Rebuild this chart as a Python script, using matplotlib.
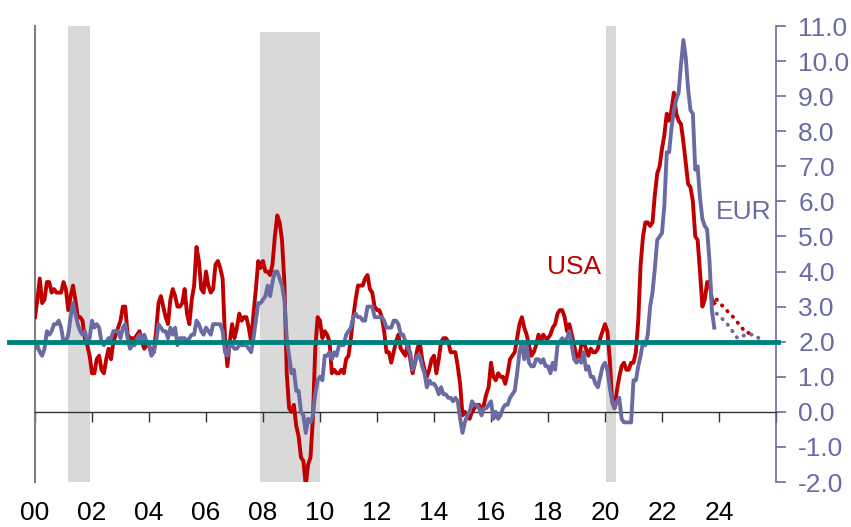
import matplotlib.pyplot as plt
import numpy as np

plt.rcParams['font.family'] = ['Liberation Sans', 'DejaVu Sans']

# US CPI, % y/y, monthly Jan 2000 - Nov 2023
usa = [
    2.7, 3.2, 3.8, 3.1, 3.2, 3.7, 3.7, 3.4, 3.5, 3.4, 3.4, 3.4,
    3.7, 3.5, 2.9, 3.3, 3.6, 3.2, 2.7, 2.7, 2.6, 2.1, 1.9, 1.6,
    1.1, 1.1, 1.5, 1.6, 1.2, 1.1, 1.5, 1.8, 1.5, 2.0, 2.2, 2.4,
    2.6, 3.0, 3.0, 2.2, 2.1, 2.1, 2.1, 2.2, 2.3, 2.0, 1.8, 1.9,
    1.9, 1.7, 1.7, 2.3, 3.1, 3.3, 3.0, 2.7, 2.5, 3.2, 3.5, 3.3,
    3.0, 3.0, 3.1, 3.5, 2.8, 2.5, 3.2, 3.6, 4.7, 4.3, 3.5, 3.4,
    4.0, 3.6, 3.4, 3.5, 4.2, 4.3, 4.1, 3.8, 2.1, 1.3, 2.0, 2.5,
    2.1, 2.4, 2.8, 2.6, 2.7, 2.7, 2.4, 2.0, 2.8, 3.5, 4.3, 4.1,
    4.3, 4.0, 4.0, 3.9, 4.2, 5.0, 5.6, 5.4, 4.9, 3.7, 1.1, 0.1,
    0.0, 0.2, -0.4, -0.7, -1.3, -1.4, -2.1, -1.5, -1.3, -0.2, 1.8, 2.7,
    2.6, 2.1, 2.3, 2.2, 2.0, 1.1, 1.2, 1.1, 1.1, 1.2, 1.1, 1.5,
    1.6, 2.1, 2.7, 3.2, 3.6, 3.6, 3.6, 3.8, 3.9, 3.5, 3.4, 3.0,
    2.9, 2.9, 2.7, 2.3, 1.7, 1.7, 1.4, 1.7, 2.0, 2.2, 1.8, 1.7,
    1.6, 2.0, 1.5, 1.1, 1.4, 1.8, 2.0, 1.5, 1.2, 1.0, 1.2, 1.5,
    1.6, 1.1, 1.5, 2.0, 2.1, 2.1, 2.0, 1.7, 1.7, 1.7, 1.3, 0.8,
    -0.1, 0.0, -0.1, -0.2, 0.0, 0.1, 0.2, 0.2, 0.0, 0.2, 0.5, 0.7,
    1.4, 1.0, 0.9, 1.1, 1.0, 1.0, 0.8, 1.1, 1.5, 1.6, 1.7, 2.1,
    2.5, 2.7, 2.4, 2.2, 1.9, 1.6, 1.7, 1.9, 2.2, 2.0, 2.2, 2.1,
    2.1, 2.2, 2.4, 2.5, 2.8, 2.9, 2.9, 2.7, 2.3, 2.5, 2.2, 1.9,
    1.6, 1.5, 1.9, 2.0, 1.8, 1.6, 1.8, 1.7, 1.7, 1.8, 2.1, 2.3,
    2.5, 2.3, 1.5, 0.3, 0.1, 0.6, 1.0, 1.3, 1.4, 1.2, 1.2, 1.4,
    1.4, 1.7, 2.6, 4.2, 5.0, 5.4, 5.4, 5.3, 5.4, 6.2, 6.8, 7.0,
    7.5, 7.9, 8.5, 8.3, 8.6, 9.1, 8.5, 8.3, 8.2, 7.7, 7.1, 6.5,
    6.4, 6.0, 5.0, 4.9, 4.0, 3.0, 3.2, 3.7, 3.7, 3.2, 3.1,
]

# Euro area HICP, % y/y, monthly Jan 2000 - Nov 2023
eur = [
    1.8, 1.9, 1.7, 1.6, 1.8, 2.3, 2.2, 2.3, 2.5, 2.5, 2.6, 2.4,
    2.0, 2.0, 2.2, 2.7, 3.1, 2.8, 2.5, 2.3, 2.2, 2.3, 2.0, 2.1,
    2.6, 2.4, 2.5, 2.4, 2.0, 1.9, 2.0, 2.1, 2.1, 2.3, 2.3, 2.3,
    2.1, 2.4, 2.5, 2.1, 1.8, 1.9, 1.9, 2.1, 2.2, 2.0, 2.2, 2.0,
    1.9, 1.6, 1.7, 2.0, 2.5, 2.4, 2.3, 2.3, 2.1, 2.4, 2.2, 2.4,
    1.9, 2.1, 2.1, 2.1, 2.0, 2.1, 2.2, 2.2, 2.6, 2.5, 2.3, 2.2,
    2.4, 2.3, 2.2, 2.5, 2.5, 2.5, 2.5, 2.3, 1.7, 1.6, 1.9, 1.9,
    1.8, 1.8, 1.9, 1.9, 1.9, 1.9, 1.8, 1.7, 2.1, 2.6, 3.1, 3.1,
    3.2, 3.3, 3.6, 3.3, 3.7, 4.0, 4.0, 3.8, 3.6, 3.2, 2.1, 1.6,
    1.1, 1.2, 0.6, 0.6, 0.0, -0.1, -0.6, -0.2, -0.3, -0.1, 0.5, 0.9,
    1.0, 0.9, 1.6, 1.6, 1.7, 1.5, 1.7, 1.6, 1.9, 1.9, 1.9, 2.2,
    2.3, 2.4, 2.7, 2.8, 2.7, 2.7, 2.6, 2.6, 3.0, 3.0, 3.0, 2.7,
    2.7, 2.7, 2.7, 2.6, 2.4, 2.4, 2.4, 2.6, 2.6, 2.5, 2.2, 2.2,
    2.0, 1.8, 1.7, 1.2, 1.4, 1.6, 1.6, 1.3, 1.1, 0.7, 0.9, 0.8,
    0.8, 0.7, 0.5, 0.7, 0.5, 0.5, 0.4, 0.4, 0.3, 0.4, 0.3, -0.2,
    -0.6, -0.3, -0.1, 0.0, 0.3, 0.2, 0.2, 0.1, -0.1, 0.1, 0.1, 0.2,
    0.3, -0.2, 0.0, -0.2, -0.1, 0.1, 0.2, 0.2, 0.4, 0.5, 0.6, 1.1,
    1.7, 2.0, 1.5, 1.9, 1.4, 1.3, 1.3, 1.5, 1.5, 1.4, 1.5, 1.3,
    1.3, 1.1, 1.4, 1.2, 1.9, 2.0, 2.1, 2.0, 2.1, 2.3, 1.9, 1.5,
    1.4, 1.5, 1.4, 1.7, 1.2, 1.3, 1.0, 1.0, 0.8, 0.7, 1.0, 1.3,
    1.4, 1.2, 0.7, 0.3, 0.1, 0.3, 0.4, -0.2, -0.3, -0.3, -0.3, -0.3,
    0.9, 0.9, 1.3, 1.6, 2.0, 1.9, 2.2, 3.0, 3.4, 4.1, 4.9, 5.0,
    5.1, 5.9, 7.4, 7.4, 8.1, 8.6, 8.9, 9.1, 9.9, 10.6, 10.1, 9.2,
    8.6, 8.5, 6.9, 7.0, 6.1, 5.5, 5.3, 5.2, 4.3, 2.9, 2.4,
]

# forecasts (dotted)
usa_fc_x = [2023.92, 2024.2, 2024.5, 2024.95, 2025.2]
usa_fc = [3.2, 2.95, 2.7, 2.25, 2.25]
eur_fc_x = [2023.92, 2024.25, 2024.65, 2024.95, 2025.2, 2025.5, 2025.65]
eur_fc = [2.8, 2.55, 2.1, 2.2, 2.2, 2.05, 1.85]

# shaded recessions
recessions = [(2001.17, 2001.93, 1.0), (2007.9, 2010.0, 0.987), (2020.05, 2020.38, 1.0)]

target = 2.0
x_ticks = list(range(2000, 2027, 2))
x_labels = ['%02d' % (y % 100) for y in x_ticks[:-1]] + ['']
y_ticks = np.arange(-2, 11.5, 1.0)

red = '#C00000'
purple = '#6B6BA3'
teal = '#00807D'

months = 2000 + np.arange(len(usa)) / 12.0

fig = plt.figure(figsize=(8.51, 5.27), dpi=100)
ax = fig.add_axes([35 / 851, 45 / 527, 741 / 851, 456 / 527])

for x0, x1, top in recessions:
    ax.axvspan(x0, x1, ymin=0, ymax=top, color='#D9D9D9', lw=0, zorder=0)

ax.plot(months, usa, color=red, lw=2.8, zorder=3)
ax.plot(months, eur, color=purple, lw=2.8, zorder=4)
ax.plot(usa_fc_x, usa_fc, color=red, lw=2.8, ls=(0, (0.1, 1.9)),
        dash_capstyle='round', zorder=3)
ax.plot(eur_fc_x, eur_fc, color=purple, lw=2.8, ls=(0, (0.1, 1.9)),
        dash_capstyle='round', zorder=4)

ax.axhline(target, xmin=-0.035, xmax=1.003, color=teal, lw=3.5,
           clip_on=False, zorder=5)

ax.text(2017.95, 4.13, 'USA', color=red, fontsize=19, va='center', ha='left')
ax.text(2023.9, 5.7, 'EUR', color=purple, fontsize=19, va='center', ha='left')

ax.set_xlim(2000, 2026)
ax.set_ylim(-2, 11)

ax.yaxis.tick_right()
ax.set_yticks(y_ticks)
ax.set_yticklabels(['%.1f' % v for v in y_ticks])
ax.tick_params(axis='y', colors=purple, labelcolor=purple, labelsize=19,
               length=7, width=1.2, pad=9)

ax.spines['bottom'].set_position(('data', 0))
ax.spines['bottom'].set_color('#333333')
ax.spines['bottom'].set_linewidth(1.0)
ax.set_xticks(x_ticks)
ax.set_xticklabels(x_labels)
ax.tick_params(axis='x', colors='#333333', labelcolor='black', labelsize=19,
               length=7, width=1.0, pad=57)

ax.spines['top'].set_visible(False)
ax.spines['left'].set_color('#808080')
ax.spines['left'].set_linewidth(1.5)
ax.spines['right'].set_color(purple)
ax.spines['right'].set_linewidth(1.2)

fig.savefig('out.png', dpi=100)
